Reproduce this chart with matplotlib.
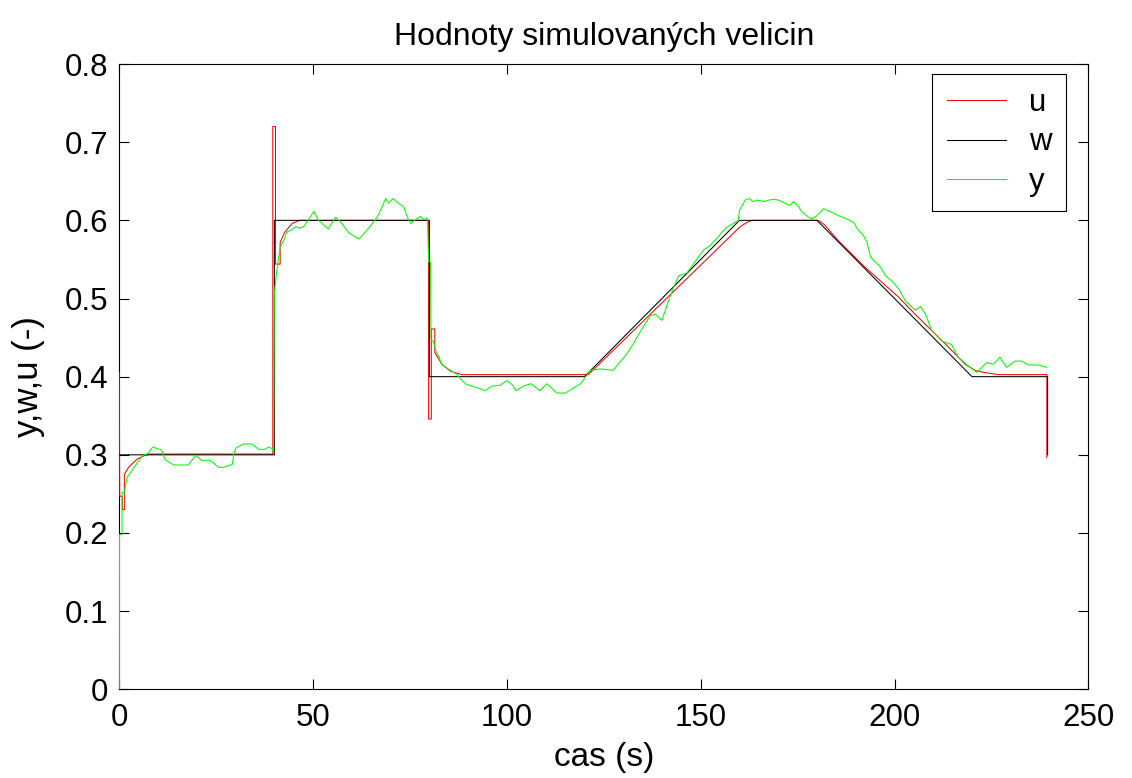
import matplotlib
matplotlib.use("Agg")
import matplotlib.pyplot as plt
import numpy as np

# ---- data ----
t_w = [0, 40, 40, 80, 80, 120, 160, 180, 220, 239.5, 239.5]
w = [0.3, 0.3, 0.6, 0.6, 0.4, 0.4, 0.6, 0.6, 0.4, 0.4, 0.3]

t_u = [0, 0.1, 0.8, 0.8, 1.3, 1.3, 2.4, 3.2, 4.6, 6.3, 8, 39.6, 39.6, 40.3, 40.3,
       41.5, 41.5, 42.7, 44.6, 46.5, 79.8, 79.8, 80.5, 80.5, 81.4, 81.4, 83.2,
       85.4, 88.4, 121.0, 160.2, 161.8, 163.2, 180.4, 182.0, 185.5, 192.4,
       196.7, 201.0, 205.3, 209.6, 213.9, 218.2, 220.8, 222.9, 226.7, 239.3, 239.3]
u = [0.405, 0.247, 0.247, 0.23, 0.23, 0.275, 0.284, 0.288, 0.2945, 0.2987, 0.301,
     0.301, 0.72, 0.72, 0.544, 0.544, 0.572, 0.585, 0.596, 0.6, 0.6, 0.3457,
     0.3457, 0.461, 0.461, 0.431, 0.416, 0.407, 0.4026, 0.4026, 0.592, 0.597,
     0.6, 0.6, 0.594, 0.574, 0.54, 0.521, 0.502, 0.48, 0.459, 0.438, 0.416,
     0.408, 0.4056, 0.4026, 0.4026, 0.2966]

t_y = [0, 0.05, 0.7, 0.7, 1.3, 2.0, 3.5, 5.9, 7.5, 8.6, 10.9, 11.8, 14, 17.8,
       19.7, 21.3, 23.4, 25.6, 26.9, 29.2, 29.5, 30.1, 32.1, 34.2, 35.9, 37.6,
       38.5, 39.4, 39.8, 40.0, 40.5, 40.9, 41.5, 42.5, 43.2, 44.5, 45.5, 46.5,
       47.6, 50.2, 51.4, 53.9, 55.8, 57.1, 59.2, 61.8, 64.5, 66.5, 67.8, 68.7,
       69.5, 70.6, 71.5, 73.4, 74.3, 75.2, 76.4, 77.7, 78.5, 79.5, 79.8, 80.3,
       80.4, 81.0, 81.8, 82.5, 83.1, 84.8, 87.1, 88.4, 89.6, 92.3, 94.4, 96.1,
       98.2, 100, 101.5, 102.3, 104.3, 106.2, 108.5, 110.3, 112.9, 115.1, 117.3,
       119, 120.2, 121.5, 124.1, 127.4, 130.9, 132.6, 134.8, 137, 138.3, 140,
       141.7, 143, 144.3, 146.5, 149.4, 150.7, 152.5, 154.2, 155.5, 156.7,
       159.7, 160, 161.5, 162.5, 163.5, 164.5, 166.5, 167.5, 169.2, 170.5,
       172.2, 173, 173.9, 175, 176.1, 177.8, 178.7, 180, 181.7, 183.5, 185.5,
       188.1, 189.5, 190.7, 191.8, 192.9, 193.8, 196.4, 197.7, 199.4, 201.1,
       202.8, 205.4, 206.7, 208, 209.6, 212.1, 214.7, 216.4, 219, 221.2, 223.8,
       225.5, 227.2, 228.9, 231.1, 232.8, 234.5, 237, 239.2]
y = [0.0, 0.198, 0.198, 0.252, 0.252, 0.271, 0.2816, 0.2987, 0.302, 0.31, 0.306,
     0.294, 0.287, 0.287, 0.299, 0.293, 0.293, 0.284, 0.284, 0.288, 0.301,
     0.309, 0.314, 0.314, 0.307, 0.307, 0.31, 0.308, 0.303, 0.506, 0.53, 0.545,
     0.566, 0.575, 0.585, 0.588, 0.592, 0.59, 0.592, 0.6115, 0.6, 0.589, 0.604,
     0.598, 0.584, 0.576, 0.591, 0.604, 0.617, 0.628, 0.622, 0.628, 0.624,
     0.617, 0.604, 0.596, 0.601, 0.605, 0.601, 0.603, 0.547, 0.547, 0.448,
     0.445, 0.431, 0.425, 0.416, 0.41, 0.403, 0.395, 0.39, 0.386, 0.382, 0.388,
     0.389, 0.395, 0.389, 0.382, 0.388, 0.391, 0.382, 0.391, 0.379, 0.379,
     0.386, 0.391, 0.399, 0.408, 0.41, 0.408, 0.429, 0.442, 0.461, 0.478,
     0.48, 0.472, 0.497, 0.514, 0.529, 0.533, 0.553, 0.562, 0.568, 0.577,
     0.585, 0.591, 0.6, 0.613, 0.626, 0.628, 0.624, 0.626, 0.624, 0.626,
     0.627, 0.625, 0.621, 0.619, 0.624, 0.619, 0.611, 0.604, 0.602, 0.606,
     0.615, 0.611, 0.606, 0.601, 0.597, 0.587, 0.582, 0.572, 0.553, 0.54,
     0.529, 0.522, 0.512, 0.497, 0.485, 0.49, 0.48, 0.459, 0.446, 0.441,
     0.425, 0.414, 0.4056, 0.418, 0.416, 0.425, 0.412, 0.42, 0.42, 0.415,
     0.415, 0.412]

x_ticks = [0, 50, 100, 150, 200, 250]
y_ticks = [0, 0.1, 0.2, 0.3, 0.4, 0.5, 0.6, 0.7, 0.8]
y_ticklabels = ["0", "0.1", "0.2", "0.3", "0.4", "0.5", "0.6", "0.7", "0.8"]

plt.rcParams['font.family'] = ['Liberation Sans', 'DejaVu Sans']

fig = plt.figure(figsize=(11.32, 7.78), dpi=100)
ax = fig.add_axes([0.1054, 0.114, 0.9614 - 0.1054, 0.9177 - 0.114])

ax.plot(t_u, u, color='#ff0000', lw=0.75, label='u', zorder=3)
ax.plot(t_w, w, color='black', lw=0.75, label='w', zorder=3)
ax.plot(t_y, y, color='#00ff00', lw=0.75, label='y', zorder=3)

ax.set_xlim(0, 250)
ax.set_ylim(0, 0.8)
ax.set_xticks(x_ticks)
ax.set_xticklabels([str(v) for v in x_ticks])
ax.set_yticks(y_ticks)
ax.set_yticklabels(y_ticklabels)
ax.tick_params(direction='in', length=7, width=0.8, top=True, right=True,
               labelsize=22.5)
ax.tick_params(axis='x', pad=10)
ax.tick_params(axis='y', pad=8)
for s in ax.spines.values():
    s.set_linewidth(0.8)

ax.set_title('Hodnoty simulovaných velicin', fontsize=23, pad=14)
ax.set_xlabel('cas (s)', fontsize=24, labelpad=6)
ax.set_ylabel('y,w,u (-)', fontsize=25, labelpad=14)

leg = ax.legend(loc='upper right', fontsize=22.5, frameon=True, fancybox=False,
                edgecolor='black', framealpha=1, handlelength=1.9,
                borderaxespad=0.0, borderpad=0.45, labelspacing=0.3,
                handletextpad=0.75,
                bbox_to_anchor=(0.977, 0.984))
leg.get_frame().set_linewidth(0.8)

fig.savefig('out.png', dpi=100)
